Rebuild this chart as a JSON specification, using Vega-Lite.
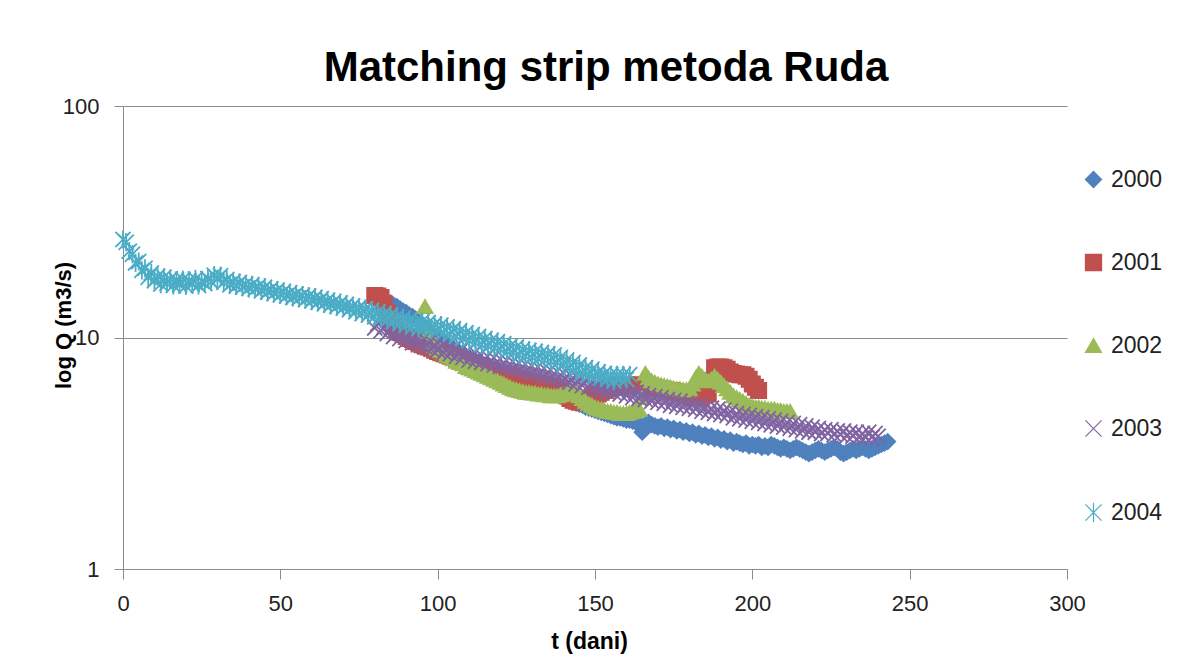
{
  "$schema": "https://vega.github.io/schema/vega-lite/v6.json",
  "width": 944,
  "height": 463,
  "autosize": "none",
  "padding": {"left": 123, "top": 106, "right": 120, "bottom": 90},
  "background": "white",
  "title": {"text": "Matching strip metoda Ruda", "fontSize": 42, "font": "Liberation Sans", "fontWeight": "bold", "color": "#000000", "anchor": "middle", "baseline": "alphabetic", "offset": -28, "dx": 11},
  "data": {"values": [
    {"t":0,"2004":26.5},{"t":1,"2004":25.8},{"t":2,"2004":23.6},{"t":3,"2004":22.9},{"t":4,"2004":21.0},
    {"t":5,"2004":21.3},{"t":6,"2004":19.5},{"t":7,"2004":19.9},{"t":8,"2004":18.2},{"t":9,"2004":19.0},
    {"t":10,"2004":17.6},{"t":11,"2004":18.4},{"t":12,"2004":17.0},{"t":13,"2004":18.2},{"t":14,"2004":17.1},
    {"t":15,"2004":17.9},{"t":16,"2004":16.8},{"t":17,"2004":17.7},{"t":18,"2004":16.9},{"t":19,"2004":17.8},
    {"t":20,"2004":16.7},{"t":21,"2004":17.6},{"t":22,"2004":17.0},{"t":23,"2004":17.9},{"t":24,"2004":16.8},
    {"t":25,"2004":17.5},{"t":26,"2004":17.1},{"t":27,"2004":18.0},{"t":28,"2004":17.4},{"t":29,"2004":18.6},
    {"t":30,"2004":17.9},{"t":31,"2004":18.5},{"t":32,"2004":17.3},{"t":33,"2004":17.8},{"t":34,"2004":16.9},
    {"t":35,"2004":17.4},{"t":36,"2004":16.7},{"t":37,"2004":17.3},{"t":38,"2004":16.5},{"t":39,"2004":17.0},
    {"t":40,"2004":16.3},{"t":41,"2004":16.9},{"t":42,"2004":16.2},{"t":43,"2004":16.6},{"t":44,"2004":15.9},
    {"t":45,"2004":16.5},{"t":46,"2004":15.7},{"t":47,"2004":16.2},{"t":48,"2004":15.5},{"t":49,"2004":16.0},
    {"t":50,"2004":15.3},{"t":51,"2004":15.8},{"t":52,"2004":15.1},{"t":53,"2004":15.6},{"t":54,"2004":14.9},
    {"t":55,"2004":15.4},{"t":56,"2004":14.8},{"t":57,"2004":15.2},{"t":58,"2004":14.6},{"t":59,"2004":15.1},
    {"t":60,"2004":14.4},{"t":61,"2004":14.9},{"t":62,"2004":14.2},{"t":63,"2004":14.7},{"t":64,"2004":14.0},
    {"t":65,"2004":14.5},{"t":66,"2004":13.8},{"t":67,"2004":14.3},{"t":68,"2004":13.6},{"t":69,"2004":14.1},
    {"t":70,"2004":13.4},{"t":71,"2004":13.9},{"t":72,"2004":13.2},{"t":73,"2004":13.7},{"t":74,"2004":12.9},
    {"t":75,"2004":13.5},{"t":76,"2004":12.7},{"t":77,"2004":13.3},{"t":78,"2004":12.5},{"t":79,"2004":13.1},
    {"t":80,"2001":15.2,"2003":11.0,"2004":12.3},
    {"t":81,"2001":15.1,"2003":11.5,"2004":12.9},
    {"t":82,"2000":14.8,"2001":14.9,"2003":10.7,"2004":12.1},
    {"t":83,"2000":14.6,"2001":14.0,"2003":11.1,"2004":12.7},
    {"t":84,"2000":14.3,"2001":12.8,"2003":10.4,"2004":11.9},
    {"t":85,"2000":14.1,"2001":11.9,"2003":10.8,"2004":12.5},
    {"t":86,"2000":13.8,"2001":11.2,"2003":10.1,"2004":11.7},
    {"t":87,"2000":13.6,"2001":10.8,"2003":10.5,"2004":12.3},
    {"t":88,"2000":13.3,"2001":10.5,"2003":9.9,"2004":11.5},
    {"t":89,"2000":13.0,"2001":10.3,"2003":10.3,"2004":12.1},
    {"t":90,"2000":12.8,"2001":10.1,"2003":9.7,"2004":11.3},
    {"t":91,"2000":12.5,"2001":9.9,"2003":10.1,"2004":11.9},
    {"t":92,"2000":12.3,"2001":9.8,"2003":9.5,"2004":11.1},
    {"t":93,"2000":12.0,"2001":9.6,"2003":9.9,"2004":11.7},
    {"t":94,"2000":11.7,"2001":9.5,"2003":9.3,"2004":10.9},
    {"t":95,"2000":11.4,"2001":9.3,"2003":9.7,"2004":11.7},
    {"t":96,"2000":11.1,"2001":9.2,"2002":13.6,"2003":9.1,"2004":11.0},
    {"t":97,"2000":10.8,"2001":9.1,"2002":10.5,"2003":9.5,"2004":11.6},
    {"t":98,"2000":10.5,"2001":9.0,"2002":9.6,"2003":8.9,"2004":10.8},
    {"t":99,"2000":10.2,"2001":8.8,"2002":9.2,"2003":9.3,"2004":11.4},
    {"t":100,"2000":10.0,"2001":8.7,"2002":9.0,"2003":8.8,"2004":10.7},
    {"t":101,"2000":9.7,"2001":8.6,"2002":8.8,"2003":9.2,"2004":11.3},
    {"t":102,"2000":9.5,"2001":8.5,"2002":8.6,"2003":8.6,"2004":10.5},
    {"t":103,"2000":9.3,"2001":8.4,"2002":8.4,"2003":9.0,"2004":11.1},
    {"t":104,"2000":9.1,"2001":8.3,"2002":8.3,"2003":8.5,"2004":10.3},
    {"t":105,"2000":8.9,"2001":8.2,"2002":8.1,"2003":8.9,"2004":10.9},
    {"t":106,"2000":8.8,"2001":8.1,"2002":7.9,"2003":8.3,"2004":10.1},
    {"t":107,"2000":8.6,"2001":8.0,"2002":7.8,"2003":8.7,"2004":10.7},
    {"t":108,"2000":8.5,"2001":7.9,"2002":7.7,"2003":8.2,"2004":9.9},
    {"t":109,"2000":8.3,"2001":7.8,"2002":7.5,"2003":8.6,"2004":10.5},
    {"t":110,"2000":8.2,"2001":7.7,"2002":7.4,"2003":8.0,"2004":9.7},
    {"t":111,"2000":8.0,"2001":7.6,"2002":7.3,"2003":8.4,"2004":10.3},
    {"t":112,"2000":7.9,"2001":7.55,"2002":7.2,"2003":7.9,"2004":9.5},
    {"t":113,"2000":7.8,"2001":7.5,"2002":7.1,"2003":8.3,"2004":10.1},
    {"t":114,"2000":7.7,"2001":7.4,"2002":7.0,"2003":7.8,"2004":9.3},
    {"t":115,"2000":7.6,"2001":7.3,"2002":6.9,"2003":8.1,"2004":9.9},
    {"t":116,"2000":7.5,"2001":7.25,"2002":6.8,"2003":7.7,"2004":9.2},
    {"t":117,"2000":7.4,"2001":7.2,"2002":6.7,"2003":8.0,"2004":9.7},
    {"t":118,"2000":7.3,"2001":7.1,"2002":6.6,"2003":7.6,"2004":9.0},
    {"t":119,"2000":7.2,"2001":7.0,"2002":6.5,"2003":7.9,"2004":9.6},
    {"t":120,"2000":7.1,"2001":6.95,"2002":6.4,"2003":7.5,"2004":8.9},
    {"t":121,"2000":7.0,"2001":6.9,"2002":6.3,"2003":7.8,"2004":9.4},
    {"t":122,"2000":6.95,"2001":6.85,"2002":6.2,"2003":7.4,"2004":8.7},
    {"t":123,"2000":6.9,"2001":6.8,"2002":6.1,"2003":7.7,"2004":9.2},
    {"t":124,"2000":6.8,"2001":6.7,"2002":6.0,"2003":7.3,"2004":8.6},
    {"t":125,"2000":6.7,"2001":6.65,"2002":5.95,"2003":7.6,"2004":9.1},
    {"t":126,"2000":6.6,"2001":6.6,"2002":5.9,"2003":7.2,"2004":8.4},
    {"t":127,"2000":6.5,"2001":6.55,"2002":5.85,"2003":7.5,"2004":8.9},
    {"t":128,"2000":6.45,"2001":6.5,"2002":5.8,"2003":7.1,"2004":8.3},
    {"t":129,"2000":6.4,"2001":6.45,"2002":5.8,"2003":7.4,"2004":8.8},
    {"t":130,"2000":6.3,"2001":6.4,"2002":5.75,"2003":7.0,"2004":8.2},
    {"t":131,"2000":6.2,"2001":6.35,"2002":5.75,"2003":7.3,"2004":8.7},
    {"t":132,"2000":6.15,"2001":6.3,"2002":5.7,"2003":6.9,"2004":8.1},
    {"t":133,"2000":6.1,"2001":6.25,"2002":5.7,"2003":7.2,"2004":8.6},
    {"t":134,"2000":6.0,"2001":6.2,"2002":5.65,"2003":6.8,"2004":8.0},
    {"t":135,"2000":5.9,"2001":6.15,"2002":5.65,"2003":7.1,"2004":8.5},
    {"t":136,"2000":5.85,"2001":6.1,"2002":5.6,"2003":6.7,"2004":7.9},
    {"t":137,"2000":5.8,"2001":6.05,"2002":5.6,"2003":7.0,"2004":8.4},
    {"t":138,"2000":5.7,"2001":6.0,"2002":5.6,"2003":6.6,"2004":7.8},
    {"t":139,"2000":5.6,"2001":5.9,"2002":5.65,"2003":6.9,"2004":8.2},
    {"t":140,"2000":5.5,"2001":5.8,"2002":5.7,"2003":6.5,"2004":7.6},
    {"t":141,"2000":5.45,"2001":5.6,"2002":5.75,"2003":6.8,"2004":8.0},
    {"t":142,"2000":5.4,"2001":5.45,"2002":5.8,"2003":6.4,"2004":7.4},
    {"t":143,"2000":5.3,"2001":5.35,"2002":5.8,"2003":6.7,"2004":7.8},
    {"t":144,"2000":5.2,"2001":5.3,"2002":5.75,"2003":6.3,"2004":7.2},
    {"t":145,"2000":5.15,"2001":5.25,"2002":5.6,"2003":6.6,"2004":7.6},
    {"t":146,"2000":5.1,"2001":5.3,"2002":5.45,"2003":6.2,"2004":7.0},
    {"t":147,"2000":5.0,"2001":5.35,"2002":5.3,"2003":6.5,"2004":7.4},
    {"t":148,"2000":4.95,"2001":5.4,"2002":5.2,"2003":6.1,"2004":6.9},
    {"t":149,"2000":4.9,"2001":5.5,"2002":5.1,"2003":6.4,"2004":7.3},
    {"t":150,"2000":4.85,"2001":5.6,"2002":5.0,"2003":6.0,"2004":6.8},
    {"t":151,"2000":4.8,"2001":5.7,"2002":4.95,"2003":6.3,"2004":7.1},
    {"t":152,"2000":4.75,"2001":5.8,"2002":4.9,"2003":5.9,"2004":6.7},
    {"t":153,"2000":4.7,"2001":5.9,"2002":4.85,"2003":6.2,"2004":7.0},
    {"t":154,"2000":4.65,"2001":6.0,"2002":4.8,"2003":5.8,"2004":6.6},
    {"t":155,"2000":4.6,"2001":6.0,"2002":4.8,"2003":6.1,"2004":6.9},
    {"t":156,"2000":4.55,"2001":6.1,"2002":4.75,"2003":5.75,"2004":6.5},
    {"t":157,"2000":4.5,"2001":6.1,"2002":4.75,"2003":6.0,"2004":6.9},
    {"t":158,"2000":4.5,"2001":6.2,"2002":4.7,"2003":5.7,"2004":6.6},
    {"t":159,"2000":4.45,"2001":6.2,"2002":4.7,"2003":5.9,"2004":6.9},
    {"t":160,"2000":4.4,"2001":6.25,"2002":4.7,"2003":5.6,"2004":6.6},
    {"t":161,"2000":4.4,"2001":6.2,"2002":4.75,"2003":5.85,"2004":6.9},
    {"t":162,"2000":4.35,"2001":6.25,"2002":4.8,"2003":5.5},
    {"t":163,"2000":4.3,"2001":6.2,"2002":4.85,"2003":5.8},
    {"t":164,"2000":4.25,"2001":6.15,"2002":4.9,"2003":5.45},
    {"t":165,"2000":3.9,"2001":6.2,"2002":5.5,"2003":5.7},
    {"t":166,"2000":4.2,"2001":6.15,"2002":7.0,"2003":5.4},
    {"t":167,"2000":4.3,"2001":6.1,"2002":6.7,"2003":5.6},
    {"t":168,"2000":4.2,"2001":6.1,"2002":6.5,"2003":5.3},
    {"t":169,"2000":4.15,"2001":6.05,"2002":6.4,"2003":5.55},
    {"t":170,"2000":4.1,"2001":6.0,"2002":6.3,"2003":5.25},
    {"t":171,"2000":4.15,"2001":6.0,"2002":6.25,"2003":5.5},
    {"t":172,"2000":4.05,"2001":5.95,"2002":6.2,"2003":5.2},
    {"t":173,"2000":4.1,"2001":5.9,"2002":6.15,"2003":5.4},
    {"t":174,"2000":4.0,"2001":5.9,"2002":6.1,"2003":5.1},
    {"t":175,"2000":4.05,"2001":5.85,"2002":6.05,"2003":5.35},
    {"t":176,"2000":3.95,"2001":5.8,"2002":6.0,"2003":5.05},
    {"t":177,"2000":4.0,"2001":5.75,"2002":6.0,"2003":5.3},
    {"t":178,"2000":3.9,"2001":5.7,"2002":5.95,"2003":5.0},
    {"t":179,"2000":3.95,"2001":5.65,"2002":5.95,"2003":5.2},
    {"t":180,"2000":3.85,"2001":5.6,"2002":6.0,"2003":4.95},
    {"t":181,"2000":3.9,"2001":5.55,"2002":6.3,"2003":5.15},
    {"t":182,"2000":3.8,"2001":5.5,"2002":6.7,"2003":4.9},
    {"t":183,"2000":3.85,"2001":5.5,"2002":7.0,"2003":5.1},
    {"t":184,"2000":3.75,"2001":5.6,"2002":6.8,"2003":4.8},
    {"t":185,"2000":3.8,"2001":5.65,"2002":6.6,"2003":5.0},
    {"t":186,"2000":3.7,"2001":5.7,"2002":6.5,"2003":4.75},
    {"t":187,"2000":3.75,"2001":6.5,"2002":6.6,"2003":4.95},
    {"t":188,"2000":3.65,"2001":7.4,"2002":6.8,"2003":4.7},
    {"t":189,"2000":3.7,"2001":7.45,"2002":6.6,"2003":4.9},
    {"t":190,"2000":3.6,"2001":7.45,"2002":6.4,"2003":4.65},
    {"t":191,"2000":3.65,"2001":7.4,"2002":6.2,"2003":4.85},
    {"t":192,"2000":3.55,"2001":7.3,"2002":6.0,"2003":4.6},
    {"t":193,"2000":3.6,"2001":7.1,"2002":5.8,"2003":4.8},
    {"t":194,"2000":3.5,"2001":7.0,"2002":5.6,"2003":4.5},
    {"t":195,"2000":3.55,"2001":6.95,"2002":5.5,"2003":4.7},
    {"t":196,"2000":3.5,"2001":6.9,"2002":5.4,"2003":4.45},
    {"t":197,"2000":3.45,"2001":6.9,"2002":5.3,"2003":4.65},
    {"t":198,"2000":3.5,"2001":6.8,"2002":5.2,"2003":4.4},
    {"t":199,"2000":3.4,"2001":6.6,"2002":5.1,"2003":4.6},
    {"t":200,"2000":3.45,"2001":6.3,"2002":5.05,"2003":4.35},
    {"t":201,"2000":3.4,"2001":6.1,"2002":5.0,"2003":4.55},
    {"t":202,"2000":3.45,"2001":5.9,"2002":5.0,"2003":4.3},
    {"t":203,"2000":3.35,"2002":4.95,"2003":4.5},
    {"t":204,"2000":3.4,"2002":4.95,"2003":4.25},
    {"t":205,"2000":3.35,"2002":4.9,"2003":4.45},
    {"t":206,"2000":3.45,"2002":4.9,"2003":4.2},
    {"t":207,"2000":3.4,"2002":4.9,"2003":4.4},
    {"t":208,"2000":3.35,"2002":4.85,"2003":4.15},
    {"t":209,"2000":3.3,"2002":4.85,"2003":4.35},
    {"t":210,"2000":3.35,"2002":4.8,"2003":4.1},
    {"t":211,"2000":3.3,"2002":4.8,"2003":4.3},
    {"t":212,"2000":3.25,"2002":4.8,"2003":4.05},
    {"t":213,"2000":3.3,"2003":4.25},
    {"t":214,"2000":3.35,"2003":4.0},
    {"t":215,"2000":3.3,"2003":4.2},
    {"t":216,"2000":3.25,"2003":3.95},
    {"t":217,"2000":3.2,"2003":4.15},
    {"t":218,"2000":3.15,"2003":3.9},
    {"t":219,"2000":3.2,"2003":4.1},
    {"t":220,"2000":3.25,"2003":3.9},
    {"t":221,"2000":3.3,"2003":4.05},
    {"t":222,"2000":3.25,"2003":3.85},
    {"t":223,"2000":3.2,"2003":4.0},
    {"t":224,"2000":3.25,"2003":3.85},
    {"t":225,"2000":3.3,"2003":4.0},
    {"t":226,"2000":3.35,"2003":3.8},
    {"t":227,"2000":3.3,"2003":3.95},
    {"t":228,"2000":3.2,"2003":3.8},
    {"t":229,"2000":3.15,"2003":3.95},
    {"t":230,"2000":3.2,"2003":3.75},
    {"t":231,"2000":3.25,"2003":3.9},
    {"t":232,"2000":3.3,"2003":3.75},
    {"t":233,"2000":3.25,"2003":3.9},
    {"t":234,"2000":3.3,"2003":3.7},
    {"t":235,"2000":3.35,"2003":3.85},
    {"t":236,"2000":3.3,"2003":3.7},
    {"t":237,"2000":3.25,"2003":3.9},
    {"t":238,"2000":3.3,"2003":3.7},
    {"t":239,"2000":3.35,"2003":3.85},
    {"t":240,"2000":3.4,"2003":3.75},
    {"t":241,"2000":3.45},
    {"t":242,"2000":3.5},
    {"t":243,"2000":3.55}
  ]},
  "transform": [
    {"fold": ["2000", "2001", "2002", "2003", "2004"], "as": ["series", "q"]},
    {"filter": "isValid(datum.q)"}
  ],
  "mark": {"type": "point", "size": 230, "strokeWidth": 1.8, "opacity": 1},
  "encoding": {
    "x": {
      "field": "t", "type": "quantitative",
      "scale": {"domain": [0, 300], "nice": false, "zero": false},
      "axis": {
        "values": [0, 50, 100, 150, 200, 250, 300], "grid": false, "labelFlush": false,
        "tickSize": 10, "labelPadding": 14, "labelFontSize": 22, "labelFont": "Liberation Sans", "labelColor": "#222222",
        "tickColor": "#8c8c8c", "domainColor": "#8c8c8c",
        "title": "t (dani)", "titleFontSize": 23, "titleFont": "Liberation Sans", "titleFontWeight": "bold", "titleColor": "#000000",
        "titleX": 466, "titleY": 79, "titleAlign": "center", "titleBaseline": "alphabetic"
      }
    },
    "y": {
      "field": "q", "type": "quantitative",
      "scale": {"type": "log", "domain": [1, 100], "nice": false},
      "axis": {
        "values": [1, 10, 100], "format": "d", "grid": true, "gridColor": "#8c8c8c", "labelFlush": false,
        "tickSize": 9, "labelPadding": 15, "labelFontSize": 22, "labelFont": "Liberation Sans", "labelColor": "#222222",
        "tickColor": "#8c8c8c", "domainColor": "#8c8c8c",
        "title": "log Q (m3/s)", "titleFontSize": 22, "titleFont": "Liberation Sans", "titleFontWeight": "bold", "titleColor": "#000000",
        "titleAngle": 270, "titleX": -60, "titleY": 219, "titleAlign": "center", "titleBaseline": "middle"
      }
    },
    "fill": {
      "field": "series", "type": "nominal",
      "scale": {"domain": ["2000", "2001", "2002", "2003", "2004"], "range": ["#4F81BD", "#C0504D", "#9BBB59", "#8064A2", "#4BACC6"]},
      "legend": {
        "title": null, "orient": "none", "legendX": 959, "legendY": 62, "padding": 0,
        "rowPadding": 59, "symbolSize": 260, "symbolStrokeWidth": 1.2, "symbolOffset": 0,
        "labelFontSize": 23, "labelFont": "Liberation Sans", "labelColor": "#222222", "labelOffset": 6
      }
    },
    "stroke": {
      "field": "series", "type": "nominal",
      "scale": {"domain": ["2000", "2001", "2002", "2003", "2004"], "range": ["#4F81BD", "#C0504D", "#9BBB59", "#8064A2", "#4BACC6"]}
    },
    "shape": {
      "field": "series", "type": "nominal",
      "scale": {"domain": ["2000", "2001", "2002", "2003", "2004"], "range": ["diamond", "square", "triangle-up", "M-1,-1L1,1M-1,1L1,-1", "M-1,-1L1,1M-1,1L1,-1M0,-1.2L0,1.2"]}
    },
    "order": {"field": "series", "type": "ordinal"}
  },
  "config": {"view": {"stroke": null}}
}
